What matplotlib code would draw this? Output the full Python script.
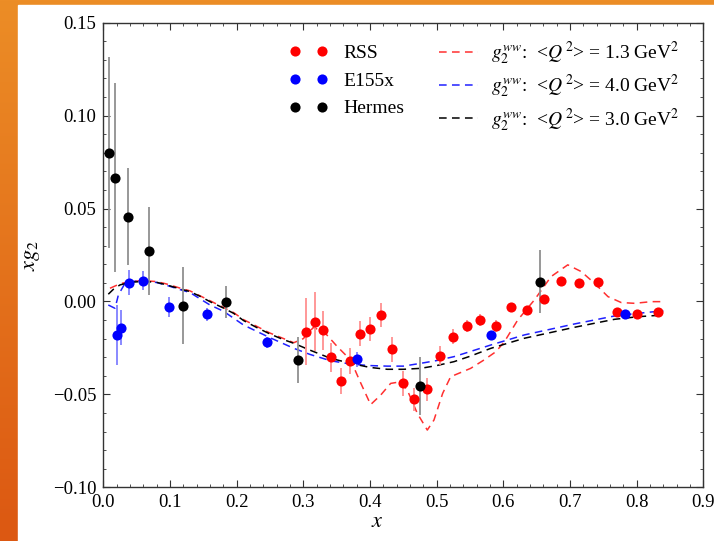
import matplotlib
matplotlib.use('Agg')
import matplotlib.pyplot as plt
import numpy as np
from matplotlib.lines import Line2D

plt.rcParams['font.family'] = ['Liberation Serif', 'DejaVu Serif']
plt.rcParams['mathtext.fontset'] = 'stix'

# data points
rss_x = [0.304, 0.317, 0.329, 0.342, 0.357, 0.370, 0.385, 0.400, 0.416, 0.433, 0.449, 0.466, 0.485,
         0.505, 0.524, 0.545, 0.565, 0.589, 0.612, 0.635, 0.661, 0.687, 0.714, 0.742, 0.771, 0.801, 0.832]
rss_y = [-0.0163, -0.0109, -0.0154, -0.0300, -0.0430, -0.0320, -0.0173, -0.0146, -0.0073, -0.0258,
         -0.0441, -0.0527, -0.0473, -0.0292, -0.0190, -0.0132, -0.0100, -0.0132, -0.0031, -0.0046,
         0.0013, 0.0112, 0.0098, 0.0103, -0.0058, -0.0067, -0.0058]
rss_err = [0.018, 0.016, 0.0105, 0.0078, 0.007, 0.0068, 0.0068, 0.0065, 0.0065, 0.0067, 0.0067, 0.0063,
           0.0063, 0.005, 0.004, 0.003, 0.003, 0.003, 0.002, 0.002, 0.002, 0.002, 0.002, 0.002, 0.002,
           0.002, 0.002]

e155_x = [0.021, 0.026, 0.038, 0.060, 0.098, 0.1555, 0.2457, 0.381, 0.5815, 0.782]
e155_y = [-0.0180, -0.0141, 0.0101, 0.0112, -0.0031, -0.0069, -0.0220, -0.0311, -0.0180, -0.0069]
e155_err = [0.016, 0.0095, 0.0067, 0.005, 0.0054, 0.0036, 0.003, 0.004, 0.002, 0.002]

hermes_x = [0.009, 0.0176, 0.0367, 0.069, 0.119, 0.1835, 0.2917, 0.4747, 0.6556]
hermes_y = [0.0800, 0.0667, 0.0457, 0.0272, -0.0023, -0.0004, -0.0315, -0.0454, 0.0107]
hermes_err = [0.0515, 0.051, 0.026, 0.0235, 0.0208, 0.0085, 0.0125, 0.0155, 0.017]

# g2^ww curves
ww13_x = [0.010, 0.025, 0.04, 0.06, 0.08, 0.095, 0.115, 0.13, 0.16, 0.1955, 0.2105, 0.25, 0.2857, 0.30,
          0.315, 0.331, 0.351, 0.371, 0.385, 0.401, 0.416, 0.431, 0.446, 0.456, 0.471, 0.486, 0.496,
          0.509, 0.521, 0.539, 0.551, 0.571, 0.589, 0.6016, 0.6216, 0.6466, 0.6717, 0.6967, 0.7168,
          0.7368, 0.757, 0.777, 0.797, 0.822, 0.84]
ww13_y = [0.0071, 0.0095, 0.0108, 0.0112, 0.0107, 0.0094, 0.0072, 0.0057, 0.0004, -0.0060, -0.0098,
          -0.0170, -0.0222, -0.0200, -0.0140, -0.0163, -0.0243, -0.0315, -0.0430, -0.0555, -0.0504,
          -0.0441, -0.0432, -0.0477, -0.0602, -0.0692, -0.0638, -0.0495, -0.0405, -0.0378, -0.0360,
          -0.0315, -0.0270, -0.0217, -0.0100, 0.0008, 0.0134, 0.0197, 0.0161, 0.0098, 0.0026, -0.0006,
          -0.0010, -0.0001, -0.0001]

ww40_x = [0.0075, 0.0176, 0.0226, 0.0326, 0.045, 0.06, 0.08, 0.095, 0.115, 0.13, 0.16, 0.18, 0.2105,
          0.25, 0.2857, 0.31, 0.341, 0.371, 0.40, 0.426, 0.45, 0.476, 0.50, 0.526, 0.55, 0.5815, 0.6316,
          0.67, 0.7068, 0.767, 0.802, 0.84]
ww40_y = [-0.0019, -0.0037, 0.0035, 0.0098, 0.0108, 0.0110, 0.0102, 0.0087, 0.0064, 0.0048, -0.0019,
          -0.0052, -0.0127, -0.0195, -0.0252, -0.0285, -0.0319, -0.0337, -0.0345, -0.0348, -0.0348,
          -0.0333, -0.0318, -0.0297, -0.0270, -0.0234, -0.0180, -0.0150, -0.0121, -0.0078, -0.0064,
          -0.0050]

ww30_x = [0.0075, 0.015, 0.025, 0.04, 0.06, 0.08, 0.095, 0.115, 0.13, 0.145, 0.16, 0.18, 0.1955, 0.2105,
          0.23, 0.25, 0.27, 0.2857, 0.31, 0.341, 0.371, 0.40, 0.426, 0.45, 0.476, 0.50, 0.526, 0.55,
          0.5815, 0.60, 0.6316, 0.67, 0.7068, 0.74, 0.767, 0.802, 0.84]
ww30_y = [0.0039, 0.0065, 0.0089, 0.0103, 0.0108, 0.0103, 0.0089, 0.0068, 0.0053, 0.0028, -0.0001,
          -0.0035, -0.0064, -0.0103, -0.0140, -0.0175, -0.0205, -0.0225, -0.0262, -0.0306, -0.0333,
          -0.0355, -0.0365, -0.0365, -0.0360, -0.0345, -0.0324, -0.0295, -0.0252, -0.0232, -0.0198,
          -0.0168, -0.0139, -0.0115, -0.0096, -0.0082, -0.0073]

fig = plt.figure(figsize=(7.14, 5.41), dpi=100)

# orange frame behind the white page
bg = fig.add_axes([0, 0, 1, 1], zorder=-10)
grad = np.linspace(0, 1, 256).reshape(-1, 1)
top = np.array([236, 141, 38]) / 255
bot = np.array([220, 88, 18]) / 255
img = top + (bot - top) * grad[:, :, None]
bg.imshow(img, aspect='auto', extent=[0, 1, 0, 1])
bg.add_patch(plt.Rectangle((18 / 714, 0), 1, 1 - 4.5 / 541, color='white'))
bg.set_xlim(0, 1)
bg.set_ylim(0, 1)
bg.axis('off')

ax = fig.add_axes([103.3 / 714, 1 - 487.3 / 541, 600 / 714, 464.6 / 541])

dash = (5, 3.5)
ax.plot(ww13_x, ww13_y, color='#ff3030', lw=1.1, dashes=dash, zorder=2)
ax.plot(ww40_x, ww40_y, color='#2020ff', lw=1.1, dashes=dash, zorder=2)
ax.plot(ww30_x, ww30_y, color='black', lw=1.1, dashes=dash, zorder=2)

ax.errorbar(rss_x, rss_y, yerr=rss_err, fmt='none', ecolor='#ff9090', elinewidth=1.3, zorder=3)
ax.errorbar(e155_x, e155_y, yerr=e155_err, fmt='none', ecolor='#8080ff', elinewidth=1.3, zorder=3)
ax.errorbar(hermes_x, hermes_y, yerr=hermes_err, fmt='none', ecolor='#909090', elinewidth=1.3, zorder=3)
ax.plot(rss_x, rss_y, 'o', color='red', ms=7.3, mec='none', zorder=4)
ax.plot(e155_x, e155_y, 'o', color='blue', ms=7.3, mec='none', zorder=4)
ax.plot(hermes_x, hermes_y, 'o', color='black', ms=7.3, mec='none', zorder=4)

ax.set_xlim(0, 0.9)
ax.set_ylim(-0.10, 0.15)
ax.set_xticks(np.arange(0, 0.91, 0.1))
ax.set_xticks(np.arange(0, 0.9, 0.02), minor=True)
ax.set_yticks(np.arange(-0.10, 0.151, 0.05))
ax.set_yticks(np.arange(-0.10, 0.15, 0.01), minor=True)
ax.xaxis.set_major_formatter(plt.FuncFormatter(lambda v, p: '%.1f' % v))
ax.yaxis.set_major_formatter(plt.FuncFormatter(lambda v, p: ('%.2f' % v).replace('-', '\u2212')
                                               if abs(v) > 1e-9 else '0.00'))
ax.tick_params(which='both', direction='in', top=True, right=True, labelsize=13.5, color='#333333')
ax.tick_params(which='major', length=5, width=0.8, pad=5)
ax.tick_params(which='minor', length=2.5, width=0.6)
for s in ax.spines.values():
    s.set_linewidth(1.0)
    s.set_color('#333333')

ax.set_xlabel('$x$', fontsize=16)
ax.xaxis.set_label_coords(0.456, -0.055)
ax.set_ylabel('$xg_2$', fontsize=16, labelpad=8)

h_pts = [Line2D([], [], ls='none', marker='o', color=c, ms=7.3, mec='none') for c in ['red', 'blue', 'black']]
leg1 = ax.legend(h_pts, ['RSS', 'E155x', 'Hermes'], loc='upper left', bbox_to_anchor=(0.293, 0.975),
                 numpoints=2, frameon=False, fontsize=14, labelspacing=0.53, borderpad=0)
ax.add_artist(leg1)

h_lines = [Line2D([], [], color=c, lw=1.1, dashes=dash) for c in ['#ff3030', '#2020ff', 'black']]
lab = [r'$g_2^{ww}$:  <$Q^{\,2}$> = %s GeV$^2$' % q for q in ['1.3', '4.0', '3.0']]
ax.legend(h_lines, lab, loc='upper left', bbox_to_anchor=(0.543, 0.985), frameon=False, fontsize=14,
          labelspacing=0.3, borderpad=0, handletextpad=0.7)

plt.savefig('out.png', dpi=100)
